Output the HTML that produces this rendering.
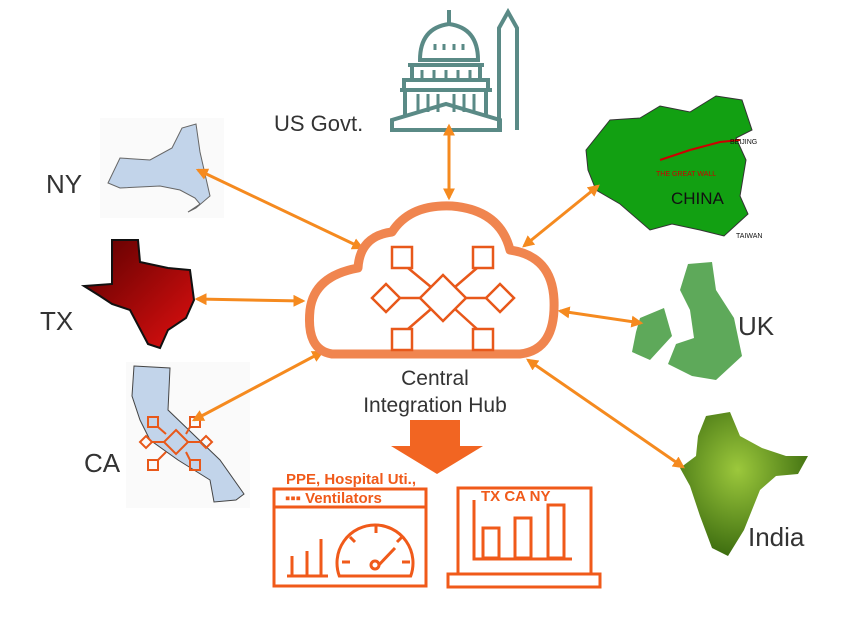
<!DOCTYPE html>
<html><head><meta charset="utf-8"><style>
html,body{margin:0;padding:0;background:#fff;width:863px;height:617px;overflow:hidden}
svg{display:block}
text{font-family:"Liberation Sans",sans-serif}
</style></head><body>
<svg width="863" height="617" viewBox="0 0 863 617" xmlns="http://www.w3.org/2000/svg">
<defs>
<marker id="a" viewBox="0 0 10 10" refX="8" refY="5" markerWidth="4" markerHeight="4" orient="auto-start-reverse"><path d="M0,0L10,5L0,10z" fill="#f58a1f"/></marker>
<linearGradient id="tx" x1="0" y1="0" x2="1" y2="1"><stop offset="0" stop-color="#5a0000"/><stop offset="1" stop-color="#e01010"/></linearGradient>
<radialGradient id="ind" cx="0.45" cy="0.4" r="0.6"><stop offset="0" stop-color="#9cc83c"/><stop offset="1" stop-color="#3e6e10"/></radialGradient>
</defs>
<!-- capitol -->
<g fill="none" stroke="#5a8a86" stroke-width="4">
<path d="M392 130 L392 120 L446 104 L500 120 L500 130 Z"/>
<path d="M405 117 L405 90 M486 117 L486 90 M400 90 L492 90 M404 90 L404 80 L488 80 L488 90"/>
<path d="M412 80 L412 65 L480 65 L480 80 M408 65 L484 65"/>
<path d="M420 60 Q420 28 449 24 Q478 28 478 60 Z"/>
<path d="M449 24 L449 10"/>
<path d="M499 130 L499 28 L508 12 L517 28 L517 130"/>
</g>
<g stroke="#5a8a86" stroke-width="3"><path d="M418 94v18M428 94v18M438 94v18M454 94v18M464 94v18M474 94v18M422 70v8M434 70v8M446 70v8M458 70v8M470 70v8M435 44v6M444 44v6M454 44v6M463 44v6"/></g>
<text x="274" y="131" font-size="22" fill="#333">US Govt.</text>
<!-- NY -->
<rect x="100" y="118" width="124" height="100" fill="#fafafa"/>
<path d="M108 183 L120 158 L150 160 L172 148 L182 128 L196 124 L200 152 L210 196 L196 208 L188 212 L200 204 L195 198 L180 190 L160 186 L120 188 Z" fill="#c2d4ea" stroke="#666" stroke-width="1"/>
<text x="46" y="193" font-size="26" fill="#333">NY</text>
<!-- TX -->
<path d="M112 240 L138 240 L140 262 L168 268 L190 270 L194 300 L186 318 L168 330 L160 348 L148 344 L130 310 L112 304 L100 296 L84 286 L112 284 Z" fill="url(#tx)" stroke="#111" stroke-width="2"/>
<text x="40" y="330" font-size="26" fill="#333">TX</text>
<!-- CA -->
<rect x="126" y="362" width="124" height="146" fill="#fafafa"/>
<path d="M134 366 L170 368 L168 410 L220 460 L244 494 L236 500 L214 502 L210 480 L178 460 L150 440 L140 420 L132 396 Z" fill="#c2d4ea" stroke="#444" stroke-width="1"/>
<g fill="none" stroke="#e8581a" stroke-width="2">
<rect x="148" y="417" width="10" height="10"/><rect x="190" y="417" width="10" height="10"/>
<rect x="148" y="460" width="10" height="10"/><rect x="190" y="460" width="10" height="10"/>
<path d="M176 430 L188 442 L176 454 L164 442Z M146 436 L152 442 L146 448 L140 442Z M206 436 L212 442 L206 448 L200 442Z M158 427L166 434M190 427L186 434M158 460L166 452M190 460L186 452M152 442H164M188 442H200"/>
</g>
<text x="84" y="472" font-size="26" fill="#333">CA</text>
<!-- China -->
<path d="M586 150 L610 120 L640 118 L660 106 L690 112 L716 96 L742 100 L752 130 L736 138 L746 160 L740 196 L748 214 L724 236 L700 230 L672 224 L650 230 L620 204 L596 190 L588 170 Z" fill="#12a012" stroke="#333" stroke-width="1"/>
<path d="M660 160 L690 150 L720 142 L740 140" stroke="#c00" stroke-width="2" fill="none"/>
<text x="730" y="144" font-size="7" fill="#111">BEIJING</text>
<text x="656" y="176" font-size="7" fill="#c00">THE GREAT WALL</text>
<text x="671" y="204" font-size="17" fill="#111">CHINA</text>
<text x="736" y="238" font-size="7" fill="#111">TAIWAN</text>
<!-- UK -->
<path d="M688 264 L712 262 L716 290 L734 318 L742 356 L716 380 L692 376 L668 364 L676 344 L694 338 L690 310 L680 290 Z M640 318 L664 308 L672 336 L650 360 L632 352 L636 332 Z" fill="#5ea95a"/>
<text x="738" y="335" font-size="26" fill="#333">UK</text>
<!-- India -->
<path d="M706 416 L730 412 L740 436 L762 448 L786 456 L808 456 L798 474 L776 476 L760 490 L744 530 L728 556 L712 548 L700 516 L690 486 L680 468 L696 456 L698 436 Z" fill="url(#ind)"/>
<text x="748" y="546" font-size="26" fill="#333">India</text>
<!-- arrows -->
<g stroke="#f58a1f" stroke-width="3" marker-start="url(#a)" marker-end="url(#a)">
<line x1="198" y1="170" x2="362" y2="248"/>
<line x1="197" y1="299" x2="303" y2="301"/>
<line x1="194" y1="420" x2="322" y2="352"/>
<line x1="449" y1="126" x2="449" y2="198"/>
<line x1="524" y1="246" x2="598" y2="186"/>
<line x1="560" y1="311" x2="641" y2="323"/>
<line x1="528" y1="360" x2="683" y2="467"/>
</g>
<!-- cloud -->
<path d="M332 354 Q306 350 310 310 Q314 276 358 268 Q360 236 392 232 Q410 204 452 206 Q500 210 510 250 Q552 256 554 300 Q556 350 520 354 Z" fill="#fff" stroke="#f0854f" stroke-width="9" stroke-linejoin="round"/>
<g fill="none" stroke="#e8581a" stroke-width="2.5">
<rect x="392" y="247" width="20" height="21"/><rect x="473" y="247" width="20" height="21"/>
<rect x="392" y="329" width="20" height="21"/><rect x="473" y="329" width="20" height="21"/>
<path d="M443 275 L466 298 L443 321 L420 298Z M386 284 L400 298 L386 312 L372 298Z M500 284 L514 298 L500 312 L486 298Z"/>
<path d="M408 268L431 287M477 268L455 287M408 329L431 309M477 329L455 309M400 298H420M466 298H486"/>
</g>
<text x="435" y="385" font-size="21" fill="#333" text-anchor="middle">Central</text>
<text x="435" y="412" font-size="21" fill="#333" text-anchor="middle">Integration Hub</text>
<!-- big arrow -->
<path d="M410 420 L460 420 L460 446 L483 446 L437 474 L391 446 L410 446Z" fill="#f26522"/>
<!-- dashboard 1 -->
<g fill="none" stroke="#f05a1a" stroke-width="3">
<rect x="274" y="489" width="152" height="97"/>
<line x1="274" y1="507" x2="426" y2="507"/>
<path d="M287 576H328M292 576V556M307 576V551M321 576V539"/>
<path d="M339.3 576 A38 38 0 1 1 410.7 576 Z"/>
<path d="M376 568 L395 548"/>
<path d="M376 525v8M342 562h8M402 562h8M350 537l5 5M402 537l-5 5"/>
</g>
<circle cx="375" cy="565" r="4" fill="#fff" stroke="#f05a1a" stroke-width="3"/>
<text x="286" y="484" font-size="15" font-weight="bold" fill="#f05a1a">PPE, Hospital Uti.,</text>
<text x="285" y="503" font-size="15" font-weight="bold" fill="#f05a1a">▪▪▪ Ventilators</text>
<!-- dashboard 2 -->
<g fill="none" stroke="#f05a1a" stroke-width="3">
<rect x="458" y="488" width="133" height="86"/>
<rect x="448" y="574" width="152" height="13"/>
<path d="M474 500V559H572"/>
<rect x="483" y="528" width="16" height="30"/>
<rect x="515" y="518" width="16" height="40"/>
<rect x="548" y="505" width="16" height="53"/>
</g>
<text x="481" y="501" font-size="15" font-weight="bold" fill="#f05a1a">TX  CA  NY</text>
</svg>
</body></html>
